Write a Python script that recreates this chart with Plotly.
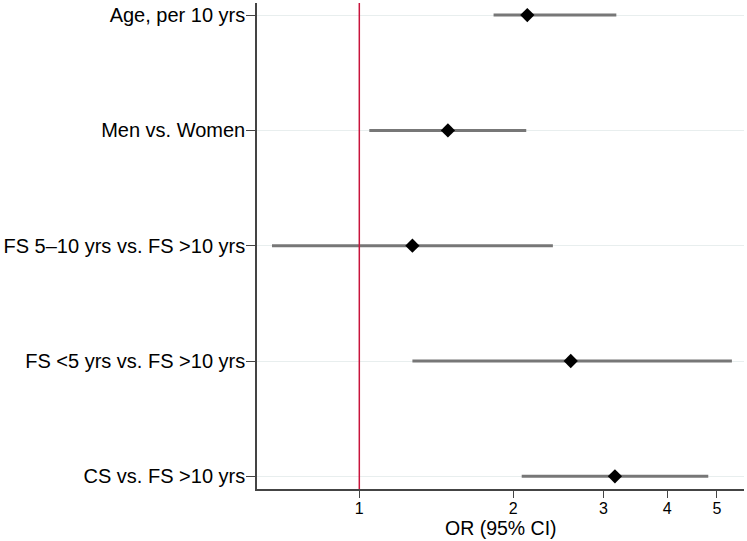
import plotly.graph_objects as go

labels = ["Age, per 10 yrs", "Men vs. Women", "FS 5\u201310 yrs vs. FS >10 yrs",
          "FS <5 yrs vs. FS >10 yrs", "CS vs. FS >10 yrs"]
odds_ratio = [2.13, 1.49, 1.27, 2.59, 3.16]
ci_low = [1.83, 1.046, 0.675, 1.27, 2.077]
ci_high = [3.18, 2.12, 2.39, 5.35, 4.81]
x_ticks = [1, 2, 3, 4, 5]

ypos = list(range(len(labels)))

fig = go.Figure()
for i in range(len(labels)):
    fig.add_trace(go.Scatter(x=[ci_low[i], ci_high[i]], y=[ypos[i], ypos[i]], mode="lines",
                             line=dict(color="#777777", width=3), showlegend=False, hoverinfo="skip"))
fig.add_trace(go.Scatter(x=odds_ratio, y=ypos, mode="markers",
                         marker=dict(symbol="diamond", size=11, color="black"), showlegend=False))

fig.add_shape(type="line", xref="x", yref="paper", x0=1, x1=1, y0=0, y1=1,
              line=dict(color="#c8143c", width=1.5))

fig.add_annotation(text="OR (95% CI)", xref="paper", yref="paper", x=0.5, y=0,
                   yshift=-39, xanchor="center", yanchor="middle", showarrow=False,
                   font=dict(size=19.5))

fig.update_layout(
    width=747, height=541,
    margin=dict(l=257, r=3, t=3, b=52),
    plot_bgcolor="white", paper_bgcolor="white",
    font=dict(family="Liberation Sans, Arial, sans-serif", color="black", size=20),
    xaxis=dict(type="log", range=[-0.2, 0.752], tickvals=x_ticks, ticktext=[str(t) for t in x_ticks],
               showgrid=False, zeroline=False, showline=True, linecolor="#444444", linewidth=1.5,
               ticks="outside", ticklen=7, tickcolor="#444444", tickfont=dict(size=16),
               ticklabelstandoff=-3, automargin=False),
    yaxis=dict(range=[4.11, -0.105], tickvals=ypos, ticktext=labels,
               showgrid=True, gridcolor="#e8eeee", gridwidth=1, zeroline=False,
               showline=True, linecolor="#444444", linewidth=1.5,
               ticks="outside", ticklen=9, tickcolor="#444444", tickfont=dict(size=20),
               ticklabelstandoff=-3, automargin=False),
)

fig.write_html("out.html", config={"displayModeBar": False},
               post_script="document.body.style.margin='0';document.body.style.overflow='hidden';")
